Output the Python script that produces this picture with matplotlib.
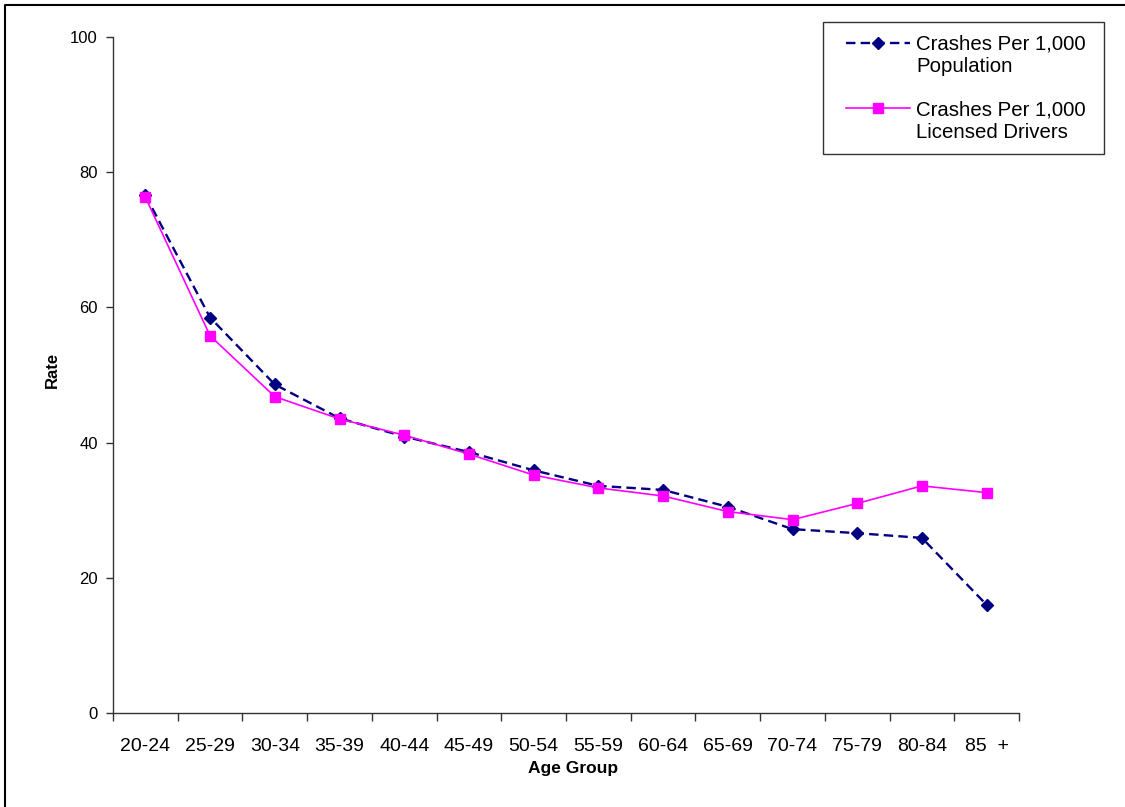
import matplotlib
matplotlib.use("Agg")
import matplotlib.pyplot as plt
from matplotlib.lines import Line2D
from matplotlib.patches import Rectangle
import numpy as np

plt.rcParams['font.family'] = ['Liberation Sans', 'DejaVu Sans']

age_groups = ["20-24", "25-29", "30-34", "35-39", "40-44", "45-49", "50-54",
              "55-59", "60-64", "65-69", "70-74", "75-79", "80-84", "85  +"]
per_population = [76.6, 58.5, 48.6, 43.6, 40.9, 38.6, 35.9, 33.6, 33.0, 30.5,
                  27.2, 26.6, 25.9, 16.0]
per_licensed = [76.3, 55.8, 46.8, 43.5, 41.1, 38.3, 35.2, 33.3, 32.1, 29.8,
                28.6, 31.0, 33.6, 32.6]
label_pop = "Crashes Per 1,000\nPopulation"
label_lic = "Crashes Per 1,000\nLicensed Drivers"

NAVY = "#000080"
MAGENTA = "#FF00FF"
pop_style = dict(color=NAVY, linestyle=(0, (4, 2.2)), lw=1.7, marker="D", markersize=6.4)
lic_style = dict(color=MAGENTA, linestyle="-", lw=1.2, marker="s", markersize=7.2)

W, H = 1125, 807
fig = plt.figure(figsize=(W / 100, H / 100), dpi=100)
L, R, T, B = 113, 1019, 37, 713
ax = fig.add_axes([L / W, 1 - B / H, (R - L) / W, (B - T) / H])

x = np.arange(len(age_groups))
ax.plot(x, per_population, **pop_style)
ax.plot(x, per_licensed, **lic_style)

ax.set_xlim(-0.5, len(age_groups) - 0.5)
ax.set_ylim(0, 100)
ax.set_yticks([0, 20, 40, 60, 80, 100])
ax.set_xticks(np.arange(len(age_groups) + 1) - 0.5)
ax.set_xticklabels([])
ax.set_xticks(x, minor=True)
ax.set_xticklabels(age_groups, minor=True, fontsize=14)
ax.tick_params(axis="x", which="minor", length=0, pad=18)
ax.tick_params(axis="x", which="major", length=6, direction="out", width=1, color="#333333")
ax.tick_params(axis="y", length=5, direction="out", width=1, labelsize=12, pad=6, color="#333333")

for s in ["top", "right"]:
    ax.spines[s].set_visible(False)
for s in ["left", "bottom"]:
    ax.spines[s].set_color("#333333")
    ax.spines[s].set_linewidth(1.0)


def fx(px):
    return px / W


def fy(py):
    return 1 - py / H


fig.text(fx(52.5), fy(370), "Rate", fontsize=12, fontweight="bold", rotation=90,
         ha="center", va="center")
fig.text(fx(573), fy(768), "Age Group", fontsize=12.5, fontweight="bold",
         ha="center", va="center")

# legend (drawn by hand so the handle sits on the first label line)
fig.add_artist(Rectangle((fx(823), fy(154)), fx(1104) - fx(823), fy(22) - fy(154),
                         transform=fig.transFigure, fill=False, edgecolor="#333333", lw=1.0))
for (style, label, yl, yt) in [(pop_style, label_pop, 43, 55.5), (lic_style, label_lic, 108, 121)]:
    fig.add_artist(Line2D([fx(846), fx(910)], [fy(yl), fy(yl)], transform=fig.transFigure,
                          **{k: v for k, v in style.items() if k != "marker"}, marker=None))
    fig.add_artist(Line2D([fx(878)], [fy(yl)], transform=fig.transFigure, linestyle="none",
                          marker=style["marker"], markersize=style["markersize"],
                          color=style["color"]))
    fig.text(fx(916), fy(yt), label, fontsize=14.7, ha="left", va="center", linespacing=1.22)

# outer frame (top and left edges visible)
fig.add_artist(Line2D([fx(5), fx(5), 1.0], [0.0, fy(5), fy(5)], transform=fig.transFigure,
                      color="black", lw=1.5))

fig.savefig("out.png", dpi=100)
